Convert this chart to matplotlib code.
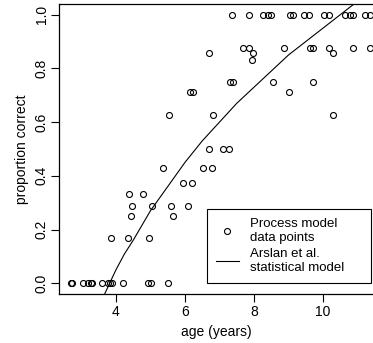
import matplotlib
matplotlib.use("Agg")
from matplotlib import pyplot as plt
from matplotlib.lines import Line2D

plt.rcParams['font.family'] = ['Liberation Sans', 'DejaVu Sans']
plt.rcParams['font.size'] = 10

# process model data points (age in years, proportion correct)
ages = [7.35, 7.86, 8.27, 8.41, 8.49, 9.04, 9.12, 9.46, 9.60, 10.04, 10.18,
        10.64, 10.78, 10.86, 11.22, 11.36,
        7.69, 7.86, 8.87, 9.62, 9.70, 10.18, 10.88, 11.36,
        6.70, 7.96, 10.28,
        7.93,
        7.30, 7.38, 8.56, 9.72,
        6.14, 6.22, 9.02,
        5.55, 6.80, 10.30,
        6.70, 7.11, 7.27,
        5.37, 6.53, 6.77,
        5.95, 6.19,
        4.38, 4.79,
        4.47, 5.05, 5.59, 6.10,
        4.45, 5.64,
        3.86, 4.36, 4.97,
        2.70, 2.73, 3.05, 3.20, 3.28, 3.31, 3.61, 3.78, 3.83, 3.89, 4.21,
        4.94, 5.03, 5.52]
props = [1.0] * 16 + [0.875] * 8 + [0.857] * 3 + [0.833] + [0.75] * 4 + \
        [0.714] * 3 + [0.625] * 3 + [0.5] * 3 + [0.429] * 3 + [0.375] * 2 + \
        [0.333] * 2 + [0.286] * 4 + [0.25] * 2 + [0.167] * 3 + [0.0] * 14

# Arslan et al. statistical model
model_age = [3.6, 3.8, 4.0, 4.25, 4.5, 4.75, 5.0, 5.25, 5.5, 5.75, 6.0, 6.5,
             7.0, 7.5, 8.0, 8.5, 9.0, 9.5, 10.0, 10.5, 11.0, 11.5]
model_prop = [-0.06, -0.005, 0.05, 0.11, 0.16, 0.215, 0.27, 0.315, 0.36, 0.405,
              0.45, 0.53, 0.60, 0.67, 0.73, 0.79, 0.85, 0.90, 0.95, 1.00,
              1.05, 1.09]

fig = plt.figure(figsize=(3.73, 3.43), dpi=100)
ax = fig.add_axes([59/373, 49/343, 314/373, 290/343])

ax.plot(ages, props, 'o', mfc='none', mec='black', ms=4.3, mew=0.8)
ax.plot(model_age, model_prop, 'k-', lw=0.8)

ax.set_xlim(2.35, 11.45)
ax.set_ylim(-0.04, 1.04)
ax.set_xticks([4, 6, 8, 10])
ax.set_yticks([0.0, 0.2, 0.4, 0.6, 0.8, 1.0])
ax.set_yticklabels(['0.0', '0.2', '0.4', '0.6', '0.8', '1.0'],
                   rotation=90, va='center')
ax.tick_params(direction='out', length=6, width=0.8, labelsize=10)
ax.tick_params(axis='x', pad=2)
ax.tick_params(axis='y', pad=1.5)
ax.spines['right'].set_visible(False)
for s in ['left', 'bottom', 'top']:
    ax.spines[s].set_linewidth(0.9)

ax.set_xlabel('age (years)', fontsize=10, labelpad=4.5)
ax.set_ylabel('proportion correct', fontsize=10, labelpad=4)

handles = [Line2D([], [], ls='none', marker='o', mfc='none', mec='black', ms=4.3, mew=0.8),
           Line2D([], [], color='black', lw=0.8)]
leg = ax.legend(handles, ['Process model\ndata points', 'Arslan et al.\nstatistical model'],
                loc='lower left', bbox_to_anchor=(0.470, 0.037, 0.524, 0.26),
                mode='expand', frameon=True, fancybox=False, framealpha=1,
                edgecolor='black', fontsize=9.5, handlelength=1.75,
                handletextpad=0.85, labelspacing=0.3, borderpad=0.7,
                borderaxespad=0)
leg.get_frame().set_linewidth(0.8)

plt.savefig('out.png', dpi=100)
